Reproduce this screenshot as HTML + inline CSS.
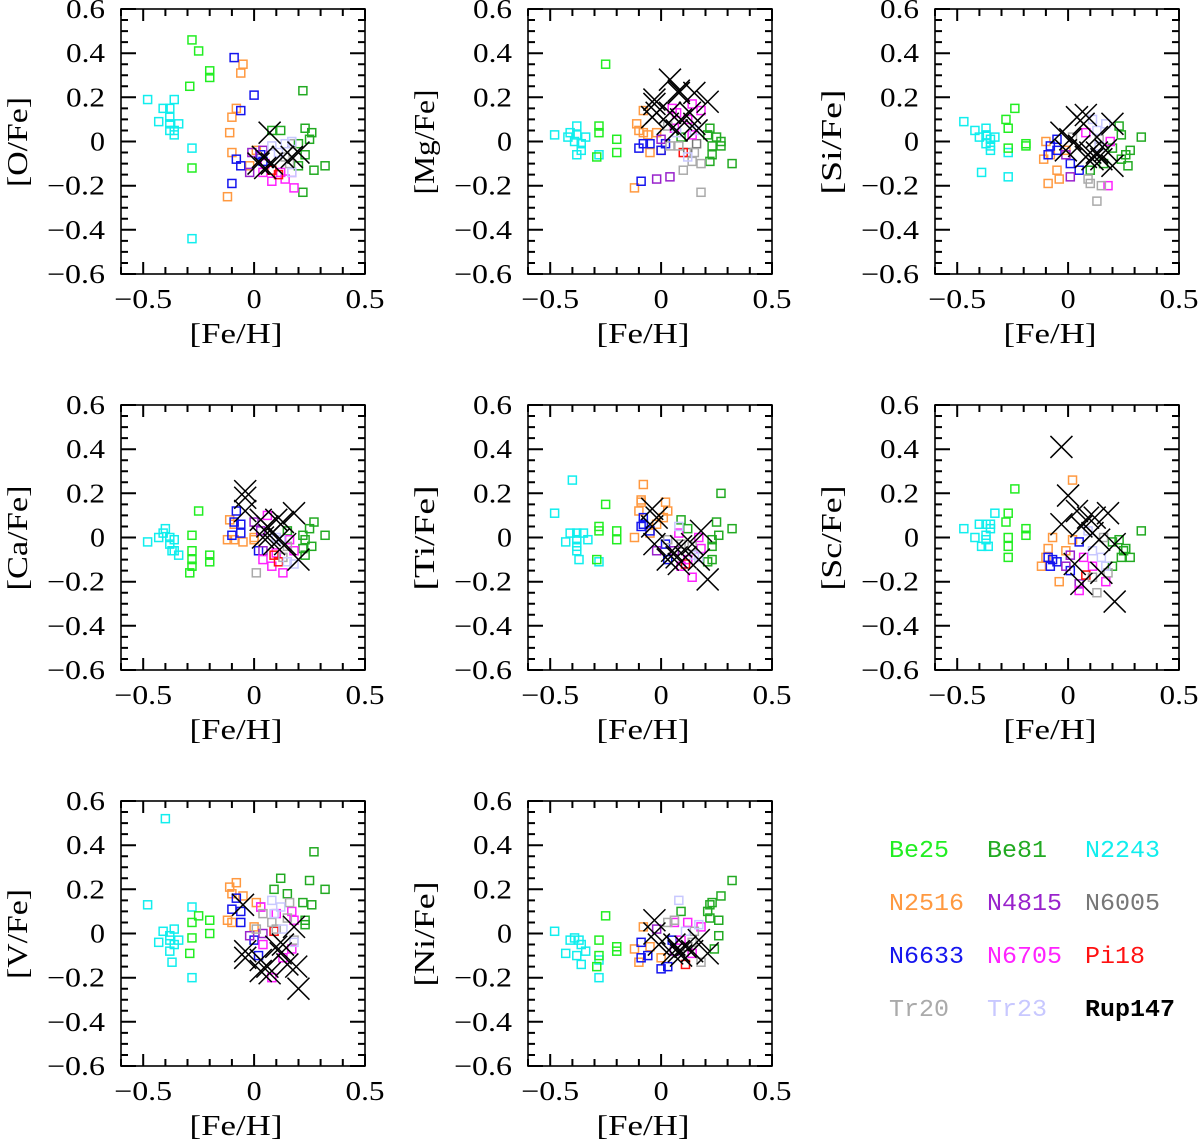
<!DOCTYPE html>
<html><head><meta charset="utf-8"><style>
html,body{margin:0;padding:0;background:#fff;}
svg{display:block;}
</style></head><body>
<svg id="fig" xmlns="http://www.w3.org/2000/svg" width="1200" height="1144" viewBox="0 0 1200 1144"></svg>
<script>
// ---- data: [cluster, [Fe/H], [X/Fe]] ----
const clusters = ["N2243","Be25","N2516","N6633","N4815","N6005","Be81","N6705","Pi18","Tr20","Tr23","Rup147"];
const clusterColors = ["#11eeee","#22ee22","#ff9940","#1515ee","#9922cc","#777777","#22aa22","#ff22ff","#ff1111","#aaaaaa","#c8c8ff","#000000"];
const xTicks = [-0.5, 0, 0.5];
const yTicks = [0.6, 0.4, 0.2, 0, -0.2, -0.4, -0.6];
const panelLabels = ["[O/Fe]","[Mg/Fe]","[Si/Fe]","[Ca/Fe]","[Ti/Fe]","[Sc/Fe]","[V/Fe]","[Ni/Fe]"];

const dataO = [
["N2243",-0.48,0.19],["N2243",-0.41,0.15],["N2243",-0.38,0.15],["N2243",-0.36,0.19],["N2243",-0.43,0.09],["N2243",-0.38,0.11],["N2243",-0.38,0.08],["N2243",-0.38,0.05],["N2243",-0.36,0.05],["N2243",-0.34,0.08],["N2243",-0.36,0.03],["N2243",-0.28,-0.03],["N2243",-0.28,-0.44],
["Be25",-0.28,0.46],["Be25",-0.25,0.41],["Be25",-0.2,0.32],["Be25",-0.2,0.29],["Be25",-0.29,0.25],["Be25",-0.28,-0.12],
["N6633",-0.09,0.38],["N6633",0,0.21],["N6633",-0.06,0.14],["N6633",-0.08,-0.08],["N6633",-0.06,-0.11],["N6633",-0.1,-0.19],["N6633",0.03,-0.06],["N6633",0.04,-0.09],
["N2516",-0.05,0.35],["N2516",-0.06,0.31],["N2516",-0.08,0.15],["N2516",-0.1,0.11],["N2516",-0.11,0.04],["N2516",-0.1,-0.05],["N2516",-0.12,-0.25],["N2516",-0.02,-0.11],["N2516",0.01,-0.04],
["N4815",-0.01,-0.05],["N4815",0.04,-0.04],["N4815",-0.02,-0.14],
["Be81",0.08,0.05],["Be81",0.12,0.05],["Be81",0.22,0.23],["Be81",0.23,0.06],["Be81",0.26,0.04],["Be81",0.25,0.01],["Be81",0.2,-0.01],["Be81",0.23,-0.06],["Be81",0.2,-0.11],["Be81",0.32,-0.11],["Be81",0.27,-0.13],["Be81",0.22,-0.23],
["N6705",0.08,-0.18],["N6705",0.14,-0.17],["N6705",0.18,-0.21],["N6705",0.17,-0.14],["N6705",0.04,-0.14],["N6705",0.05,-0.1],["N6705",0.12,-0.14],
["Pi18",0.11,-0.15],["Pi18",0.08,-0.13],
["Tr23",0.08,-0.02],["Tr23",0.14,-0.01],["Tr23",0.17,0.0],["Tr23",0.11,-0.05],["Tr23",0.17,-0.14],
["Tr20",0.17,-0.01],["Tr20",0.14,-0.07],["Tr20",0.16,-0.1],
["Rup147",0.07,0.04],["Rup147",0.04,-0.07],["Rup147",0.08,-0.1],["Rup147",0.13,-0.07],["Rup147",0.17,-0.07],["Rup147",0.2,-0.05],["Rup147",0.05,-0.12],["Rup147",0.02,-0.1]
];
const dataMg = [
["N2243",-0.48,0.03],["N2243",-0.42,0.02],["N2243",-0.41,0.04],["N2243",-0.38,0.07],["N2243",-0.38,0.03],["N2243",-0.34,0.02],["N2243",-0.39,0],["N2243",-0.36,-0.01],["N2243",-0.36,-0.04],["N2243",-0.38,-0.06],["N2243",-0.28,-0.06],
["Be25",-0.25,0.35],["Be25",-0.28,0.07],["Be25",-0.28,0.04],["Be25",-0.2,0.01],["Be25",-0.2,-0.05],["Be25",-0.29,-0.07],
["N2516",-0.08,0.14],["N2516",-0.11,0.08],["N2516",-0.1,0.05],["N2516",-0.08,0.04],["N2516",-0.06,0.03],["N2516",-0.02,0.04],["N2516",-0.05,-0.05],["N2516",-0.12,-0.21],["N2516",0,-0.04],
["N6633",-0.1,-0.03],["N6633",-0.08,-0.01],["N6633",-0.05,-0.01],["N6633",-0.09,-0.18],["N6633",0.02,-0.01],["N6633",0,-0.04],
["N4815",-0.02,-0.17],["N4815",0.04,-0.16],["N4815",0,0.01],
["Be81",0.22,0.06],["Be81",0.25,0.02],["Be81",0.27,0],["Be81",0.23,-0.02],["Be81",0.27,-0.02],["Be81",0.23,-0.06],["Be81",0.22,-0.09],["Be81",0.32,-0.1],["Be81",0.09,0.02],["Be81",0.21,0.03],
["N6705",0.05,0.15],["N6705",0.14,0.17],["N6705",0.18,0.14],["N6705",0.07,0.13],["N6705",0.12,0.1],["N6705",0.14,0.03],["N6705",0.06,0.06],
["Tr20",0.18,-0.23],["Tr20",0.1,-0.13],["Tr20",0.14,-0.09],["Tr20",0.08,-0.02],["Tr20",0.04,-0.02],["Tr20",0.15,-0.05],["Tr20",0.03,0.07],["Tr20",0.18,-0.1],
["N6005",0.12,-0.05],["N6005",0.16,-0.01],
["Pi18",0.1,-0.05],
["Tr23",0.15,0.05],["Tr23",0.12,-0.07],["Tr23",0.07,0.04],
["Rup147",0.04,0.28],["Rup147",-0.03,0.19],["Rup147",-0.03,0.17],["Rup147",0.08,0.23],["Rup147",0.08,0.22],["Rup147",0.15,0.22],["Rup147",0.21,0.18],["Rup147",-0.02,0.13],["Rup147",0.04,0.13],["Rup147",0.09,0.1],["Rup147",0.13,0.13],["Rup147",0.15,0.08],["Rup147",0.03,0.08],["Rup147",0.07,0.05],["Rup147",0.16,0.05],["Rup147",-0.04,0.11]
];
const dataSi = [
["N2243",-0.47,0.09],["N2243",-0.42,0.05],["N2243",-0.37,0.06],["N2243",-0.4,0.02],["N2243",-0.37,0.03],["N2243",-0.35,0.01],["N2243",-0.33,0.02],["N2243",-0.37,-0.01],["N2243",-0.35,-0.02],["N2243",-0.35,-0.04],["N2243",-0.39,-0.14],["N2243",-0.27,-0.16],["N2243",-0.27,-0.05],
["Be25",-0.24,0.15],["Be25",-0.28,0.1],["Be25",-0.27,0.06],["Be25",-0.27,-0.03],["Be25",-0.19,-0.01],["Be25",-0.19,-0.02],
["N2516",-0.1,0],["N2516",-0.11,-0.08],["N2516",-0.05,-0.13],["N2516",-0.04,-0.17],["N2516",-0.09,-0.19],["N2516",-0.08,-0.06],["N2516",-0.01,-0.04],
["N6633",-0.09,-0.06],["N6633",-0.08,-0.02],["N6633",-0.05,0.01],["N6633",0.01,-0.1],["N6633",0.05,-0.13],["N6633",-0.05,-0.04],
["N4815",-0.01,-0.06],["N4815",0.01,-0.16],
["Tr20",0.09,-0.17],["Tr20",0.1,-0.19],["Tr20",0.15,-0.2],["Tr20",0.13,-0.27],["Tr20",0.02,0.02],["Tr20",0.14,0.01],
["N6705",0.18,-0.2],["N6705",0.08,0.04],["N6705",0.19,0],
["Tr23",0.11,0.1],["Tr23",0.17,0.08],["Tr23",0.13,0.05],["Tr23",0.14,-0.02],
["Be81",0.23,0.07],["Be81",0.24,0.03],["Be81",0.33,0.02],["Be81",0.2,-0.03],["Be81",0.28,-0.04],["Be81",0.26,-0.06],["Be81",0.24,-0.08],["Be81",0.27,-0.11],["Be81",0.1,-0.13],["Be81",0.16,-0.1],
["Rup147",-0.03,0.04],["Rup147",0.04,0.11],["Rup147",0.08,0.12],["Rup147",0.07,0.08],["Rup147",0.2,0.08],["Rup147",0.01,0.01],["Rup147",0.13,0.02],["Rup147",0.05,-0.02],["Rup147",0.1,-0.05],["Rup147",0.08,-0.07],["Rup147",0.13,-0.05],["Rup147",0.15,-0.08],["Rup147",0.2,-0.11],["Rup147",-0.01,-0.04],["Rup147",0.11,-0.08],["Rup147",0.17,-0.04]
];
const dataCa = [
["N2243",-0.48,-0.02],["N2243",-0.43,0],["N2243",-0.41,0.02],["N2243",-0.4,0.04],["N2243",-0.38,0],["N2243",-0.36,-0.01],["N2243",-0.38,-0.03],["N2243",-0.37,-0.06],["N2243",-0.36,-0.06],["N2243",-0.34,-0.08],
["Be25",-0.25,0.12],["Be25",-0.28,0.01],["Be25",-0.28,-0.06],["Be25",-0.28,-0.1],["Be25",-0.28,-0.13],["Be25",-0.29,-0.16],["Be25",-0.2,-0.08],["Be25",-0.2,-0.11],
["N2516",-0.11,0.08],["N2516",-0.12,-0.01],["N2516",-0.09,-0.01],["N2516",-0.05,-0.02],["N2516",-0.09,0.06],["N2516",0,0],["N2516",0,-0.01],
["N6633",-0.08,0.12],["N6633",-0.09,0.07],["N6633",-0.06,0.06],["N6633",-0.1,0.01],["N6633",-0.06,0.02],["N6633",0.02,-0.06],
["N4815",0,0.07],["N4815",0.04,-0.06],["N4815",0.03,0.03],
["N6705",0.06,0.1],["N6705",0.04,-0.1],["N6705",0.08,-0.13],["N6705",0.13,-0.16],["N6705",0.1,-0.07],["N6705",0.16,-0.01],["N6705",0.18,-0.06],
["Pi18",0.09,-0.08],["Pi18",0.11,-0.11],
["Tr20",0.01,-0.16],["Tr20",0.13,-0.09],["Tr20",0.15,-0.04],
["Tr23",0.12,-0.01],["Tr23",0.15,-0.11],["Tr23",0.18,-0.12],["Tr23",0.1,0],
["Be81",0.27,0.07],["Be81",0.25,0.04],["Be81",0.32,0.01],["Be81",0.22,0.01],["Be81",0.23,-0.01],["Be81",0.26,-0.04],["Be81",0.22,-0.05],["Be81",0.23,-0.08],["Be81",0.15,0.03],
["Rup147",-0.04,0.21],["Rup147",-0.04,0.18],["Rup147",-0.04,0.12],["Rup147",0.03,0.08],["Rup147",0.06,0.05],["Rup147",0.1,0.08],["Rup147",0.13,0.07],["Rup147",0.18,0.11],["Rup147",0.07,0.01],["Rup147",0.11,-0.01],["Rup147",0.14,-0.03],["Rup147",0.2,-0.1],["Rup147",0.04,0],["Rup147",0.09,-0.03]
];
const dataTi = [
["N2243",-0.4,0.26],["N2243",-0.48,0.11],["N2243",-0.41,0.02],["N2243",-0.38,0.02],["N2243",-0.35,0.02],["N2243",-0.33,-0.01],["N2243",-0.43,-0.02],["N2243",-0.38,-0.01],["N2243",-0.38,-0.04],["N2243",-0.38,-0.06],["N2243",-0.37,-0.1],["N2243",-0.28,-0.11],
["Be25",-0.25,0.15],["Be25",-0.28,0.05],["Be25",-0.28,0.03],["Be25",-0.2,0.03],["Be25",-0.2,-0.01],["Be25",-0.29,-0.1],
["N2516",-0.08,0.24],["N2516",-0.09,0.16],["N2516",-0.1,0.12],["N2516",0.02,0.16],["N2516",0.03,0.12],["N2516",0.01,0.09],["N2516",-0.02,0.06],["N2516",-0.12,0],["N2516",-0.05,0.02],["N2516",-0.09,0.17],
["N6633",-0.08,0.09],["N6633",-0.08,0.06],["N6633",-0.09,0.05],["N6633",-0.05,0.03],["N6633",0.02,-0.03],["N6633",0.03,-0.1],
["N4815",-0.02,-0.06],["N4815",0.06,-0.06],
["Be81",0.27,0.2],["Be81",0.25,0.07],["Be81",0.32,0.04],["Be81",0.26,0.01],["Be81",0.09,0.08],["Be81",0.12,0.04],["Be81",0.23,-0.01],["Be81",0.23,-0.04],["Be81",0.23,-0.1],["Be81",0.21,-0.11],
["N6705",0.08,0.02],["N6705",0.14,-0.18],["N6705",0.18,-0.05],["N6705",0.09,-0.13],["N6705",0.17,0],["N6705",0.12,-0.1],
["Pi18",0.11,-0.12],
["Tr20",0.03,-0.01],["Tr20",0.09,-0.03],["Tr20",0.14,-0.04],
["Tr23",0.08,0.05],["Tr23",0.15,-0.08],["Tr23",0.17,-0.09],
["Rup147",-0.04,0.13],["Rup147",-0.02,0.09],["Rup147",-0.04,0.05],["Rup147",0.18,0.03],["Rup147",-0.03,-0.03],["Rup147",0.05,-0.06],["Rup147",0.09,-0.04],["Rup147",0.11,-0.09],["Rup147",0.14,-0.03],["Rup147",0.03,-0.1],["Rup147",0.07,-0.09],["Rup147",0.17,-0.1],["Rup147",0.21,-0.19],["Rup147",0.08,-0.12]
];
const dataSc = [
["N2243",-0.47,0.04],["N2243",-0.4,0.06],["N2243",-0.37,0.06],["N2243",-0.35,0.06],["N2243",-0.33,0.11],["N2243",-0.35,0.04],["N2243",-0.42,0],["N2243",-0.37,0.01],["N2243",-0.37,-0.01],["N2243",-0.39,-0.04],["N2243",-0.36,-0.04],
["Be25",-0.24,0.22],["Be25",-0.27,0.11],["Be25",-0.28,0.07],["Be25",-0.19,0.04],["Be25",-0.19,0.01],["Be25",-0.27,0],["Be25",-0.27,-0.04],["Be25",-0.27,-0.09],
["N2516",0.02,0.26],["N2516",-0.07,0],["N2516",-0.09,-0.05],["N2516",-0.01,-0.06],["N2516",-0.1,-0.09],["N2516",-0.12,-0.13],["N2516",-0.04,-0.2],["N2516",0.02,-0.01],
["N6633",0.05,-0.02],["N6633",-0.09,-0.09],["N6633",-0.07,-0.1],["N6633",-0.05,-0.11],["N6633",-0.08,-0.13],["N6633",0.01,-0.15],
["N4815",-0.01,-0.13],["N4815",0.01,-0.08],["N4815",0.05,-0.21],
["N6705",0.07,-0.09],["N6705",0.05,-0.24],["N6705",0.17,-0.2],["N6705",0.11,-0.13],
["Pi18",0.08,-0.17],
["Tr20",0.13,-0.25],["Tr20",0.16,0],["Tr20",0.11,-0.18],["Tr20",0.18,-0.16],
["Tr23",0.09,0.03],["Tr23",0.11,-0.06],["Tr23",0.15,-0.09],["Tr23",0.17,-0.13],
["Be81",0.33,0.03],["Be81",0.23,-0.01],["Be81",0.2,-0.02],["Be81",0.26,-0.05],["Be81",0.25,-0.06],["Be81",0.28,-0.09],["Be81",0.24,-0.09],["Be81",0.2,-0.13],
["Rup147",-0.03,0.41],["Rup147",0,0.19],["Rup147",0.04,0.12],["Rup147",-0.03,0.06],["Rup147",0.09,0.09],["Rup147",0.12,0.09],["Rup147",0.18,0.11],["Rup147",0.06,0.05],["Rup147",0.11,0.02],["Rup147",0.14,-0.01],["Rup147",0.21,-0.03],["Rup147",0.06,-0.21],["Rup147",0.15,-0.16],["Rup147",0.21,-0.29],["Rup147",0.03,-0.12]
];
const dataV = [
["N2243",-0.4,0.52],["N2243",-0.48,0.13],["N2243",-0.28,0.12],["N2243",-0.41,0.01],["N2243",-0.36,0.02],["N2243",-0.38,-0.01],["N2243",-0.38,-0.03],["N2243",-0.34,-0.03],["N2243",-0.36,-0.05],["N2243",-0.43,-0.04],["N2243",-0.38,-0.08],["N2243",-0.37,-0.13],["N2243",-0.28,-0.2],
["Be25",-0.25,0.08],["Be25",-0.28,0.05],["Be25",-0.2,0.06],["Be25",-0.28,-0.02],["Be25",-0.2,0],["Be25",-0.29,-0.09],
["N2516",-0.08,0.23],["N2516",-0.11,0.21],["N2516",-0.1,0.18],["N2516",-0.05,0.17],["N2516",0.01,0.14],["N2516",-0.12,0.06],["N2516",-0.1,0.05],["N2516",0,0.03],
["N6633",-0.08,0.16],["N6633",-0.1,0.11],["N6633",-0.06,0.1],["N6633",-0.06,0.05],["N6633",0,-0.03],["N6633",0.02,-0.1],
["N4815",-0.02,-0.01],["N4815",0.04,0],["N4815",0.03,0.12],
["Be81",0.27,0.37],["Be81",0.12,0.25],["Be81",0.25,0.24],["Be81",0.32,0.2],["Be81",0.09,0.2],["Be81",0.15,0.18],["Be81",0.22,0.14],["Be81",0.26,0.13],["Be81",0.23,0.06],["Be81",0.23,0.04],
["N6705",0.03,0.12],["N6705",0.17,0.1],["N6705",0.18,0.06],["N6705",0.04,-0.05],["N6705",0.17,-0.07],["N6705",0.13,-0.11],["N6705",0.08,-0.2],["N6705",0.1,0.09],
["Tr20",0.16,0.14],["Tr20",0.04,0.09],["Tr20",0.08,0.05],["Tr20",0.1,0.02],["Tr20",0.18,-0.03],["Tr20",0.01,0.02],["Tr20",0.15,0.07],
["Tr23",0.08,0.15],["Tr23",0.12,0.12],["Tr23",0.13,0.02],["Tr23",0.18,-0.04],["Tr23",0.09,0.09],
["Pi18",0.09,0.01],
["Rup147",-0.05,0.13],["Rup147",0.18,0.03],["Rup147",-0.04,-0.08],["Rup147",-0.04,-0.11],["Rup147",0.03,-0.12],["Rup147",0.06,-0.15],["Rup147",0.03,-0.17],["Rup147",0.1,-0.06],["Rup147",0.13,-0.05],["Rup147",0.15,-0.14],["Rup147",0.19,-0.15],["Rup147",0.2,-0.25],["Rup147",0.07,-0.18],["Rup147",0.12,-0.09]
];
const dataNi = [
["N2243",-0.48,0.01],["N2243",-0.41,-0.03],["N2243",-0.39,-0.02],["N2243",-0.37,-0.03],["N2243",-0.36,-0.05],["N2243",-0.34,-0.08],["N2243",-0.43,-0.09],["N2243",-0.38,-0.1],["N2243",-0.36,-0.14],["N2243",-0.28,-0.12],["N2243",-0.28,-0.2],
["Be25",-0.25,0.08],["Be25",-0.28,-0.03],["Be25",-0.28,-0.1],["Be25",-0.29,-0.15],["Be25",-0.2,-0.06],["Be25",-0.2,-0.08],
["N2516",-0.08,0.03],["N2516",-0.12,-0.07],["N2516",-0.05,-0.06],["N2516",-0.1,-0.13],["N2516",0,-0.11],
["N6633",-0.09,-0.04],["N6633",-0.09,-0.11],["N6633",-0.06,-0.1],["N6633",0,-0.16],["N6633",0.03,-0.15],["N6633",0.05,-0.03],
["N4815",-0.02,0.02],["N4815",0.06,-0.08],
["Be81",0.32,0.24],["Be81",0.27,0.17],["Be81",0.23,0.14],["Be81",0.22,0.13],["Be81",0.21,0.1],["Be81",0.09,0.1],["Be81",0.22,0.07],["Be81",0.26,0.06],["Be81",0.26,-0.01],["Be81",0.24,-0.07],
["N6705",0.12,0.05],["N6705",0.18,0.03],["N6705",0.06,0.05],["N6705",0.09,-0.03],["N6705",0.14,-0.09],
["Pi18",0.11,-0.14],
["Tr20",0.06,0.06],["Tr20",0.03,0.05],["Tr20",0.15,0.01],["Tr20",0.18,-0.13],["Tr20",0.14,-0.04],
["Tr23",0.08,0.15],["Tr23",0.17,0.04],["Tr23",0.11,0.01],
["N6005",0.12,-0.06],
["Rup147",-0.03,0.06],["Rup147",-0.03,0],["Rup147",-0.01,-0.05],["Rup147",0.06,-0.05],["Rup147",0.08,-0.08],["Rup147",0.11,-0.06],["Rup147",0.09,-0.1],["Rup147",0.17,-0.03],["Rup147",0.21,-0.09],["Rup147",0.14,-0.08],["Rup147",0.05,-0.09]
];
const panelData = [dataO, dataMg, dataSi, dataCa, dataTi, dataSc, dataV, dataNi];

// ---- layout ----
const NS = "http://www.w3.org/2000/svg";
const svg = document.getElementById("fig");
const X0 = -0.6, X1 = 0.5, Y0 = -0.6, Y1 = 0.6;
const BW = 244, BH = 265;
function mk(tag, attrs, parent){
  const e = document.createElementNS(NS, tag);
  for (const k in attrs) e.setAttribute(k, attrs[k]);
  (parent||svg).appendChild(e);
  return e;
}
function fmt(v){ return v === 0 ? "0" : (v < 0 ? "\u2212" : "") + Math.abs(v).toString(); }

panelData.forEach((data, p) => {
  const col = p % 3, row = Math.floor(p / 3);
  const L = 121 + col * 407, T = 9 + row * 396;
  const xs = v => L + (v - X0) / (X1 - X0) * BW;
  const ys = v => T + (Y1 - v) / (Y1 - Y0) * BH;
  const g = mk("g", {});
  
  
  const fr = mk("rect", {x:L, y:T, width:BW, height:BH, fill:"none", stroke:"#000", "stroke-width":1.6}, g);
  
  
  let d = "";
  for (let i = -6; i <= 5; i++) {
    const x = (xs(i / 10)).toFixed(1), len = (i % 5 === 0) ? 12 : 7;
    d += "M" + x + " " + (T+BH) + " L" + x + " " + (T+BH-len) + " ";
    d += "M" + x + " " + T + " L" + x + " " + (T+len) + " ";
  }
  for (let i = -12; i <= 12; i++) {
    const y = (ys(i / 20)).toFixed(1), len = (i % 4 === 0) ? 15 : 7;
    d += "M" + L + " " + y + " L" + (L+len) + " " + y + " ";
    d += "M" + (L+BW) + " " + y + " L" + (L+BW-len) + " " + y + " ";
  }
  const tk = mk("path", {d:d, fill:"none", stroke:"#000000", "stroke-width":"2"}, g);
  
  
  xTicks.forEach(v => {
    const t = mk("text", {x:xs(v), y:T+BH+34, "text-anchor":"middle", "font-family":"Liberation Serif, serif", "font-size":27, textLength: v === 0 ? 15 : (v < 0 ? 58 : 39), lengthAdjust:"spacingAndGlyphs"}, g);
    t.textContent = fmt(v);
    
    
  });
  yTicks.forEach(v => {
    const t = mk("text", {x:L-16, y:ys(v)+9, "text-anchor":"end", "font-family":"Liberation Serif, serif", "font-size":27, textLength: v === 0 ? 15 : (v < 0 ? 58 : 39), lengthAdjust:"spacingAndGlyphs"}, g);
    t.textContent = fmt(v);
    
    
  });
  const xl = mk("text", {x:L+BW/2-7, y:T+BH+69, "text-anchor":"middle", "font-family":"Liberation Serif, serif", "font-size":28, textLength:93, lengthAdjust:"spacingAndGlyphs"}, g);
  xl.textContent = "[Fe/H]";
  
  
  const ylen = panelLabels[p].length * 15;
  const yl = mk("text", {x:0, y:0, transform:`translate(${L-94},${T+133}) rotate(-90)`, "text-anchor":"middle", "font-family":"Liberation Serif, serif", "font-size":28, textLength:ylen, lengthAdjust:"spacingAndGlyphs"}, g);
  yl.textContent = panelLabels[p];
  
  
  clusters.forEach((c, ci) => {
    data.filter(q => q[0] === c).forEach(q => {
      const x = xs(q[1]), y = ys(q[2]);
      let m;
      if (c === "Rup147") {
        m = mk("path", {d:`M${x-11},${y-11}L${x+11},${y+11}M${x-11},${y+11}L${x+11},${y-11}`, stroke:"#000", "stroke-width":1.5, fill:"none"}, g);
      } else {
        m = mk("rect", {x:x-4, y:y-4, width:8, height:8, fill:"none", stroke:clusterColors[ci], "stroke-width":1.5}, g);
      }
      
      
    });
  });
});

// ---- legend ----
const legendOrder = ["Be25","Be81","N2243","N2516","N4815","N6005","N6633","N6705","Pi18","Tr20","Tr23","Rup147"];
const lg = mk("g", {});


legendOrder.forEach((c, i) => {
  const col = i % 3, row = Math.floor(i / 3);
  const t = mk("text", {x:889 + col * 98, y:857 + row * 53, "font-family":"Liberation Mono, monospace", "font-size":24, fill:clusterColors[clusters.indexOf(c)], "font-weight": c === "Rup147" ? "bold" : "normal", textLength: c.length * 15, lengthAdjust:"spacingAndGlyphs"}, lg);
  t.textContent = c;
  
  
});
</script>
</body></html>
